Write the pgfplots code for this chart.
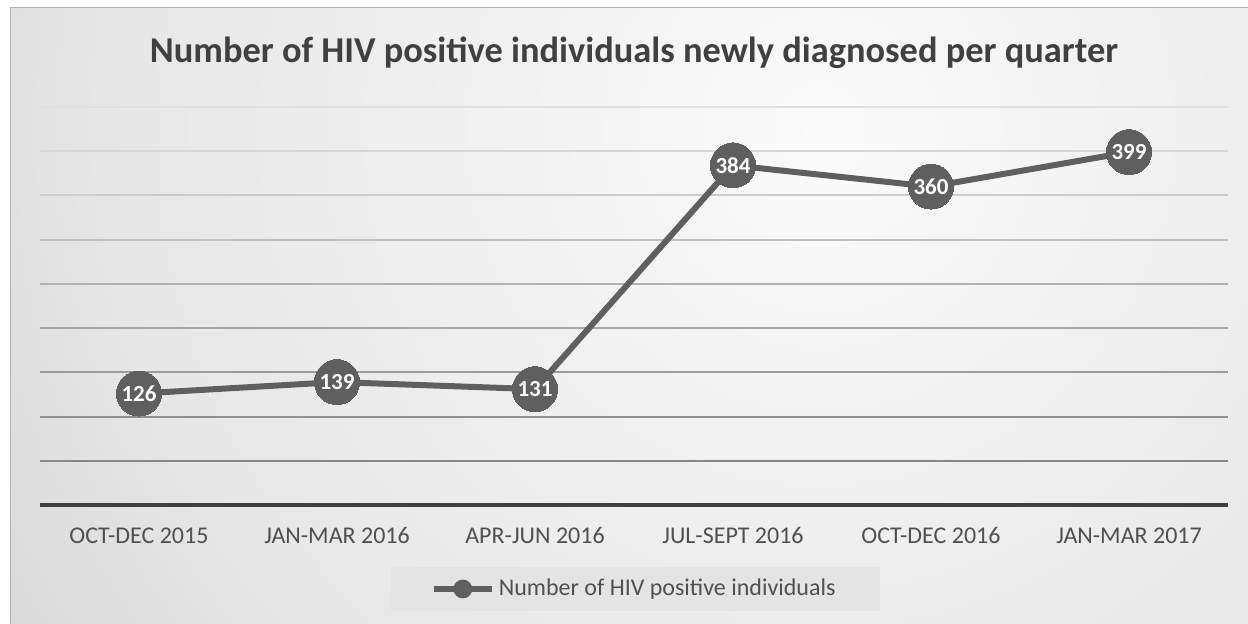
\documentclass[border=0pt]{standalone}
\usepackage{pgfplots}
\pgfplotsset{compat=1.18}
\usepackage{fontspec}
\setmainfont{Carlito}
\definecolor{linegray}{HTML}{5F5F5F}
\definecolor{txtgray}{HTML}{404040}
\definecolor{ticktxt}{HTML}{505050}
\definecolor{legbg}{HTML}{E4E4E4}
\definecolor{bg0}{HTML}{FBFBFB}
\definecolor{bg1}{HTML}{F2F2F2}
\definecolor{bg2}{HTML}{E6E6E6}
\definecolor{bg3}{HTML}{D5D5D5}
\definecolor{bg4}{HTML}{CACACA}
\definecolor{bg5}{HTML}{C6C6C6}
\pgfdeclareradialshading{bgshade}{\pgfpoint{0bp}{0bp}}{%
  color(0bp)=(bg0); color(7.5bp)=(bg1); color(18bp)=(bg2); color(26bp)=(bg3); color(41bp)=(bg4); color(50bp)=(bg5)}
\begin{document}
\begin{tikzpicture}
\useasboundingbox (0pt,0pt) rectangle (624pt,312pt);
\fill[white] (0pt,0pt) rectangle (624pt,312pt);
\begin{scope}
\clip (5pt,0pt) rectangle (624pt,308pt);
\shade[shading=bgshade] (410pt,247pt) circle (500pt);
\end{scope}
\draw[gray!60, line width=0.5pt] (5pt,0pt) -- (5pt,308pt) -- (624pt,308pt);
\begin{axis}[
  at={(20pt,59.5pt)}, anchor=south west,
  scale only axis, width=594pt, height=199pt,
  xmin=-0.5, xmax=5.5, ymin=0, ymax=450,
  xtick=data,
  xticklabels={OCT-DEC 2015,JAN-MAR 2016,APR-JUN 2016,JUL-SEPT 2016,OCT-DEC 2016,JAN-MAR 2017},
  ytick={50,100,...,450}, yticklabels={},
  axis x line*=bottom, axis y line*=left,
  y axis line style={draw=none},
  x axis line style={color=txtgray, line width=2pt},
  major tick length=0pt,
  /pgf/number format/assume math mode=true,
  xticklabel style={anchor=base, yshift=-19.5pt, font=\fontsize{12}{14}\selectfont, text=ticktxt},
  title={Number of HIV positive individuals newly diagnosed per quarter},
  title style={at={(0.5,1.106)}, anchor=center, font=\bfseries\fontsize{18.2}{21}\selectfont, text=txtgray},
  legend style={at={(0.501,-0.211)}, anchor=center, fill=legbg, draw=none,
    font=\fontsize{12}{14}\selectfont, text=ticktxt, inner xsep=20pt, inner ysep=4pt},
  legend image code/.code={\draw[line width=3pt, linegray] (2pt,0pt) -- (31pt,0pt); \fill[linegray] (16.5pt,0pt) circle (3.2pt);},
  clip=false,
]
\draw[black!47, line width=1pt] (axis cs:-0.5,50) -- (axis cs:5.5,50);
\draw[black!43, line width=1pt] (axis cs:-0.5,100) -- (axis cs:5.5,100);
\draw[black!39, line width=1pt] (axis cs:-0.5,150) -- (axis cs:5.5,150);
\draw[black!35, line width=1pt] (axis cs:-0.5,200) -- (axis cs:5.5,200);
\draw[black!30, line width=1pt] (axis cs:-0.5,250) -- (axis cs:5.5,250);
\draw[black!25, line width=1pt] (axis cs:-0.5,300) -- (axis cs:5.5,300);
\draw[black!20, line width=1pt] (axis cs:-0.5,350) -- (axis cs:5.5,350);
\draw[black!16, line width=1pt] (axis cs:-0.5,400) -- (axis cs:5.5,400);
\draw[black!12, line width=1pt] (axis cs:-0.5,450) -- (axis cs:5.5,450);
\addplot[color=linegray, line width=3pt, mark=*, mark size=11.25pt,
  mark options={fill=linegray, draw=linegray, line width=0pt},
  nodes near coords,
  every node near coord/.append style={anchor=center, text=white, font=\bfseries\fontsize{11.5}{13}\selectfont, /pgf/number format/assume math mode=true}]
  coordinates {(0,126) (1,139) (2,131) (3,384) (4,360) (5,399)};
\addlegendentry{Number of HIV positive individuals}
\end{axis}
\end{tikzpicture}
\end{document}
